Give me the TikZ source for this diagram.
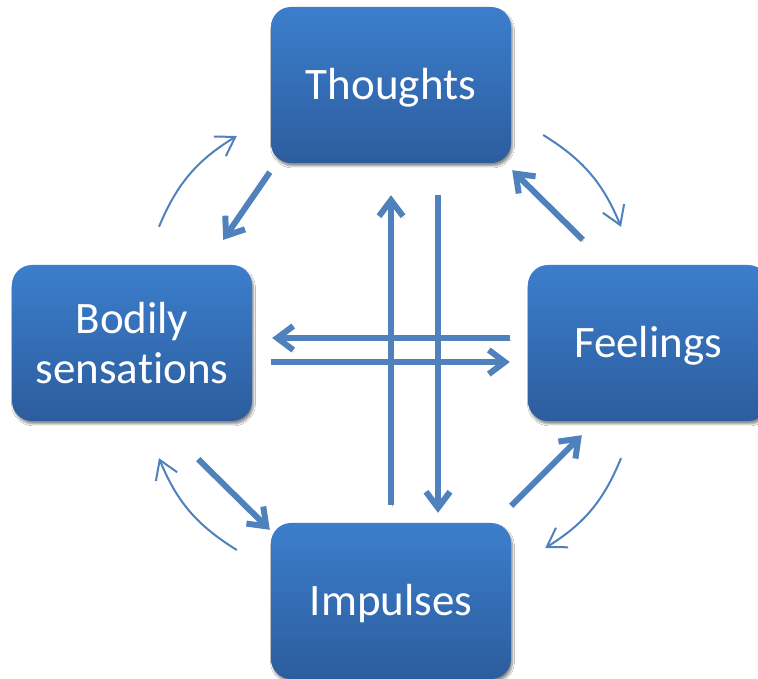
\documentclass[tikz,border=0pt]{standalone}
\usepackage{fontspec}
\setmainfont{Carlito}[Ligatures=NoCommon]
\usetikzlibrary{arrows.meta,shadows.blur}
\definecolor{arr}{RGB}{79,129,189}
\definecolor{boxtop}{RGB}{60,126,204}
\definecolor{boxbot}{RGB}{44,93,158}
\newcommand{\lowertext}[1]{\raisebox{-3pt}[\height][\depth]{#1}}
\begin{document}
\begin{tikzpicture}[x=1pt,y=1pt,
  box/.style={rectangle, rounded corners=20pt, minimum width=240pt, minimum height=156pt,
    top color=boxtop, bottom color=boxbot, draw=none, text=white,
    font=\fontsize{45}{50}\selectfont, align=center, inner sep=0pt,
    blur shadow={shadow xshift=1.5pt, shadow yshift=-3pt, shadow blur steps=6, shadow opacity=45}},
  big/.style={draw=arr, line width=6pt, -{Straight Barb[length=16pt,width=24pt]},
    preaction={draw=black!22, transform canvas={shift={(1.5pt,-2.5pt)}}}},
  thin/.style={draw=arr, line width=2pt, -{Straight Barb[length=18pt,width=23pt]}}]
\useasboundingbox (0,0) rectangle (758,679);
\clip (0,0) rectangle (758,679);
\fill[white] (0,0) rectangle (758,679);

\node[box] (thoughts) at (391,594) {\lowertext{Thoughts}};
\node[box] (bodily) at (132,336) {\raisebox{-5pt}{\parbox{230pt}{\centering\baselineskip=50pt Bodily\\sensations}}};
\node[box] (feelings) at (648,336) {\lowertext{Feelings}};
\node[box] (impulses) at (391,78) {\lowertext{Impulses}};

% thick diagonal arrows
\draw[big] ([shift={(-1,-9)}]thoughts.south west) -- ([shift={(-29,25)}]bodily.north east);
\draw[big] ([shift={(55,25)}]feelings.north west) -- ([shift={(1,-7)}]thoughts.south east);
\draw[big] ([shift={(-54,-38)}]bodily.south east) -- ([shift={(-1,-7)}]impulses.north west);
\draw[big] ([shift={(0,17)}]impulses.north east) -- ([shift={(54,-14)}]feelings.south west);

% vertical arrows
\draw[big] ([shift={(0,18)}]impulses.north) -- ([shift={(0,-32)}]thoughts.south);
\draw[big] ([shift={(47,-32)}]thoughts.south) -- ([shift={(47,10)}]impulses.north);

% horizontal arrows
\draw[big] ([shift={(-18,5)}]feelings.west) -- ([shift={(20,5)}]bodily.east);
\draw[big] ([shift={(19,-19)}]bodily.east) -- ([shift={(-18,-19)}]feelings.west);

% thin curved arrows
\draw[thin] ([shift={(27,38)}]bodily.north) to[bend left=18] ([shift={(-34,-51)}]thoughts.west);
\draw[thin] ([shift={(32,-50)}]thoughts.east) to[bend left=18] ([shift={(-27,38)}]feelings.north);
\draw[thin] ([shift={(-27,-37)}]feelings.south) to[bend left=18] ([shift={(34,53)}]impulses.east);
\draw[thin] ([shift={(-34,51)}]impulses.west) to[bend left=18] ([shift={(27,-37)}]bodily.south);
\end{tikzpicture}
\end{document}
